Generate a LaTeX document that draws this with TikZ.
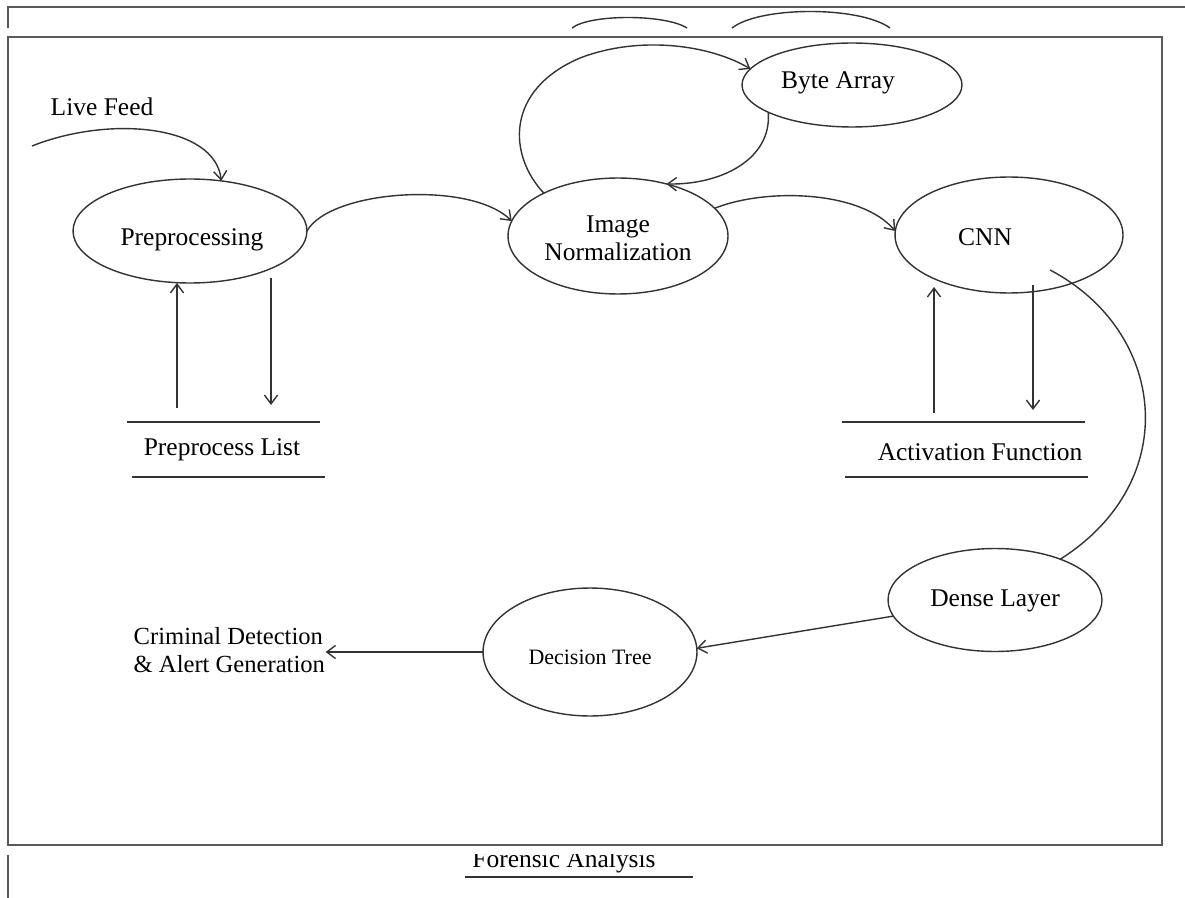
\documentclass[tikz,border=0pt]{standalone}
\usepackage{fontspec}
\setmainfont{Liberation Serif}
\usetikzlibrary{arrows.meta,shapes.geometric}
\begin{document}
\begin{tikzpicture}[x=0.02cm,y=-0.02cm,
  line width=0.8pt,
  every node/.style={font=\fontsize{14.5}{14.5}\selectfont, text=black},
  oval/.style={draw=black!80, ellipse, inner sep=0pt, outer sep=0pt, align=center},
  flow/.style={draw=black!80, -{Straight Barb[length=5pt,width=7.5pt]}},
  frame/.style={draw=black!65, line width=1.3pt},
  store/.style={draw=black!80}
]
\useasboundingbox (0,0) rectangle (1185,898);

% page frame fragments
\draw[frame] (8,28) -- (8,7) -- (1185,7);
\draw[frame] (8,37) rectangle (1162,845);
\draw[frame] (8,855) -- (8,898);

% curves peeking above the main panel
\draw[black!80] (572,28) .. controls (590,14) and (665,14) .. (687,28);
\draw[black!80] (732,28) .. controls (760,6) and (860,6) .. (890,28);

% processes (outline nodes, captions placed inside)
\node[oval, minimum width=4.68cm, minimum height=2.08cm] (pre) at (190,231) {};
\node at (192,240) (preText) {Preprocessing};
\node[oval, minimum width=4.4cm, minimum height=2.32cm] (norm) at (618,236) {};
\node[align=center] (normText) at (618,238) {Image\\[1.5pt]Normalization};
\node[oval, minimum width=4.4cm, minimum height=1.68cm] (byte) at (852,85) {};
\node (byteText) at (838,83) {Byte Array};
\node[oval, minimum width=4.56cm, minimum height=2.32cm] (cnn) at (1009,235) {};
\node (cnnText) at (985,237) {CNN};
\node[oval, minimum width=4.28cm, minimum height=2.06cm] (dense) at (995,600) {};
\node (denseText) at (995,601) {Dense Layer};
\node[oval, minimum width=4.28cm, minimum height=2.56cm] (dec) at (590,652) {};
\node[font=\fontsize{12.5}{14}\selectfont] (decText) at (590,657) {Decision Tree};

% plain labels
\node (feed) at (102,107) {Live Feed};
\node[anchor=west, align=left, inner sep=0pt, font=\fontsize{14}{14}\selectfont] (crim) at (133,650) {Criminal Detection\\[2pt]\& Alert Generation};

% data stores
\node (plist) at (222,450) {Preprocess List};
\draw[store] (127,422) -- (320,422);
\draw[store] (132,477) -- (325,477);
\node (act) at (980,452) {Activation Function};
\draw[store] (842,422) -- (1085,422);
\draw[store] (845,477) -- (1088,477);

% forensic store, cut by the panel edge
\begin{scope}
  \clip (0,854) rectangle (1185,898);
  \node[anchor=base] (forensic) at (564,867) {Forensic Analysis};
\end{scope}
\draw[store] (465,877) -- (693,877);

% free ends
\coordinate (feedTail) at (32,146);
\coordinate (pUp) at (177,408);
\coordinate (pDn) at (271,278);
\coordinate (aUp) at (934,413);
\coordinate (aDn) at (1033,285);
\coordinate (cnnTail) at (1050,270);

% connectors
\draw[flow] (feedTail) .. controls (110,115) and (215,125) .. (pre.58);
\draw[flow] (pre.east) .. controls (330,190) and (470,180) .. (norm.172);
\draw[flow] (norm.150) .. controls (508,155) and (505,90) .. (580,58)
                       .. controls (640,35) and (710,45) .. (byte.171);
\draw[flow] (byte.-162) .. controls (772,160) and (720,185) .. (norm.47);
\draw[flow] (norm.16) .. controls (765,188) and (860,190) .. (cnn.178);
\draw[black!80] (cnnTail) .. controls (1165,330) and (1185,480) .. (dense.32);
\draw[flow] (dense.-171) -- (dec.2);
\draw[flow] (dec.west) -- (crim.east |- dec.west);

\draw[flow] (pUp) -- (pUp |- pre.south);
\draw[flow] (pDn) -- ++(0,127);
\draw[flow] (aUp) -- ++(0,-126);
\draw[flow] (aDn) -- ++(0,125);
\end{tikzpicture}
\end{document}
